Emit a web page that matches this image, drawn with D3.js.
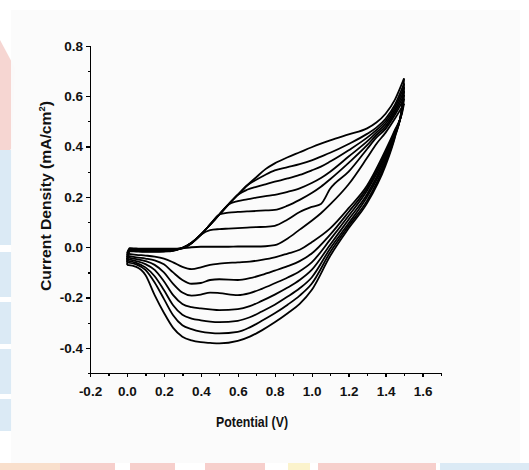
<!DOCTYPE html>
<html>
<head>
<meta charset="utf-8">
<script src="https://cdn.jsdelivr.net/npm/d3@7"></script>
<style>
  body { margin: 0; background: #fff; }
  svg { display: block; }
  .axis path, .axis line { stroke: #000; stroke-width: 1.3px; shape-rendering: crispEdges; }
  .axis text { font-family: "Liberation Sans", Arial, sans-serif; font-weight: bold; font-size: 13.5px; fill: #111; }
  .title { font-family: "Liberation Sans", Arial, sans-serif; font-weight: bold; fill: #111; }
  .cv { fill: none; stroke: #000; stroke-width: 1.8px; stroke-linejoin: round; }
</style>
</head>
<body>
<svg width="529" height="470"></svg>
<script>
// potentials (V) for the anodic (forward) and cathodic (reverse) sweeps
var fwdV = [0, 0.015, 0.05, 0.1, 0.15, 0.2, 0.25, 0.3, 0.35, 0.4, 0.45, 0.5, 0.55, 0.6, 0.65, 0.7, 0.75, 0.8, 0.87, 0.935, 1.0, 1.05, 1.1, 1.2, 1.3, 1.35, 1.4, 1.45, 1.5];
var revV = [1.5, 1.49, 1.45, 1.4, 1.3, 1.2, 1.1, 1.0, 0.935, 0.87, 0.8, 0.73, 0.665, 0.6, 0.5, 0.45, 0.4, 0.35, 0.3, 0.25, 0.2, 0.15, 0.1, 0.05, 0];

// current density (mA/cm2), cycles 1..7
var fwd1 = [-0.025, -0.004, -0.005, -0.006, -0.006, -0.006, -0.006, -0.004, 0.0, 0.002, 0.002, 0.002, 0.002, 0.003, 0.003, 0.003, 0.004, 0.008, 0.035, 0.07, 0.105, 0.135, 0.17, 0.25, 0.355, 0.41, 0.455, 0.51, 0.57];
var fwd2 = [-0.033, -0.006, -0.007, -0.008, -0.008, -0.008, -0.008, -0.004, 0.016, 0.05, 0.068, 0.072, 0.074, 0.076, 0.078, 0.08, 0.081, 0.085, 0.11, 0.14, 0.16, 0.172, 0.232, 0.3, 0.39, 0.435, 0.47, 0.525, 0.59];
var fwd3 = [-0.04, -0.008, -0.009, -0.01, -0.01, -0.01, -0.01, -0.004, 0.017, 0.05, 0.09, 0.13, 0.137, 0.14, 0.142, 0.144, 0.146, 0.148, 0.165, 0.188, 0.215, 0.24, 0.27, 0.335, 0.405, 0.445, 0.48, 0.535, 0.605];
var fwd4 = [-0.047, -0.01, -0.011, -0.012, -0.012, -0.012, -0.011, -0.003, 0.017, 0.05, 0.09, 0.13, 0.17, 0.183, 0.19, 0.197, 0.203, 0.208, 0.22, 0.234, 0.255, 0.275, 0.3, 0.36, 0.42, 0.455, 0.49, 0.545, 0.62];
var fwd5 = [-0.053, -0.012, -0.013, -0.014, -0.014, -0.014, -0.012, -0.003, 0.018, 0.05, 0.09, 0.13, 0.17, 0.208, 0.228, 0.24, 0.25, 0.26, 0.273, 0.287, 0.305, 0.32, 0.34, 0.385, 0.435, 0.465, 0.5, 0.555, 0.635];
var fwd6 = [-0.06, -0.014, -0.015, -0.016, -0.016, -0.016, -0.013, -0.002, 0.018, 0.05, 0.09, 0.13, 0.17, 0.208, 0.245, 0.268, 0.288, 0.305, 0.318, 0.33, 0.345, 0.36, 0.375, 0.41, 0.45, 0.475, 0.51, 0.565, 0.65];
var fwd7 = [-0.07, -0.016, -0.017, -0.018, -0.018, -0.017, -0.014, -0.002, 0.018, 0.05, 0.09, 0.13, 0.17, 0.208, 0.245, 0.278, 0.31, 0.333, 0.357, 0.377, 0.397, 0.411, 0.424, 0.448, 0.472, 0.495, 0.53, 0.585, 0.67];

var rev1 = [0.57, 0.535, 0.465, 0.385, 0.245, 0.155, 0.075, 0.02, -0.01, -0.025, -0.04, -0.05, -0.057, -0.06, -0.065, -0.07, -0.08, -0.087, -0.078, -0.06, -0.045, -0.037, -0.033, -0.03, -0.025];
var rev2 = [0.59, 0.54, 0.46, 0.375, 0.235, 0.14, 0.05, -0.025, -0.055, -0.075, -0.093, -0.11, -0.123, -0.13, -0.127, -0.13, -0.142, -0.145, -0.13, -0.1, -0.068, -0.052, -0.045, -0.04, -0.033];
var rev3 = [0.605, 0.545, 0.455, 0.365, 0.225, 0.125, 0.03, -0.06, -0.095, -0.12, -0.143, -0.165, -0.182, -0.19, -0.182, -0.18, -0.188, -0.192, -0.18, -0.145, -0.1, -0.07, -0.055, -0.047, -0.04];
var rev4 = [0.62, 0.55, 0.45, 0.355, 0.21, 0.11, 0.01, -0.09, -0.13, -0.16, -0.188, -0.213, -0.234, -0.246, -0.25, -0.247, -0.243, -0.238, -0.225, -0.19, -0.135, -0.09, -0.067, -0.055, -0.047];
var rev5 = [0.635, 0.555, 0.445, 0.345, 0.2, 0.095, -0.005, -0.12, -0.163, -0.196, -0.228, -0.255, -0.278, -0.292, -0.297, -0.295, -0.29, -0.283, -0.268, -0.23, -0.17, -0.115, -0.08, -0.062, -0.053];
var rev6 = [0.65, 0.56, 0.44, 0.335, 0.185, 0.085, -0.02, -0.145, -0.192, -0.228, -0.262, -0.292, -0.318, -0.336, -0.342, -0.34, -0.335, -0.325, -0.31, -0.27, -0.205, -0.14, -0.09, -0.068, -0.06];
var rev7 = [0.67, 0.565, 0.435, 0.325, 0.175, 0.075, -0.035, -0.17, -0.225, -0.262, -0.298, -0.33, -0.355, -0.372, -0.382, -0.38, -0.377, -0.37, -0.355, -0.32, -0.26, -0.19, -0.11, -0.078, -0.07];

var forwardScans = [fwd1, fwd2, fwd3, fwd4, fwd5, fwd6, fwd7];
var reverseScans = [rev1, rev2, rev3, rev4, rev5, rev6, rev7];

var xMajor = [-0.2, 0.0, 0.2, 0.4, 0.6, 0.8, 1.0, 1.2, 1.4, 1.6];
var xMinor = [-0.1, 0.1, 0.3, 0.5, 0.7, 0.9, 1.1, 1.3, 1.5, 1.7];
var yMajor = [-0.4, -0.2, 0.0, 0.2, 0.4, 0.6, 0.8];
var yMinor = [-0.5, -0.3, -0.1, 0.1, 0.3, 0.5, 0.7];

var svg = d3.select("svg"),
    margin = {top: 45.7, left: 90},
    width = 351,
    height = 327.5;

// faint watermark behind the figure
var bg = svg.append("g").attr("opacity", 0.8);
bg.append("polygon").attr("points", "0,40 15,68 12,148 0,160").attr("fill", "#f5cdc8");
[[150, 95], [252, 45], [302, 42], [349, 45], [399, 32]].forEach(function(b) {
  bg.append("rect").attr("x", 0).attr("y", b[0]).attr("width", 12).attr("height", b[1]).attr("fill", "#d3e5f3");
});
[[0, 60, "#f8d8c0"], [60, 55, "#f6c4c0"], [130, 45, "#f6c4c0"], [205, 60, "#f6c4c0"], [288, 22, "#fbf1c0"], [318, 118, "#f6c4c0"], [440, 89, "#d3e5f3"]].forEach(function(b) {
  bg.append("rect").attr("x", b[0]).attr("y", 463).attr("width", b[1]).attr("height", 7).attr("fill", b[2]);
});
svg.append("rect").attr("x", 11).attr("y", 10).attr("width", 509).attr("height", 453)
  .attr("fill", "#fbfbfb").attr("opacity", 0.94);

var x = d3.scaleLinear().domain([-0.2, 1.7]).range([0, width]),
    y = d3.scaleLinear().domain([-0.5, 0.8]).range([height, 0]);

var g = svg.append("g").attr("transform", "translate(" + margin.left + "," + margin.top + ")");

var fmt = function(d) { return d.toFixed(1); };

g.append("g")
    .attr("class", "axis")
    .attr("transform", "translate(0," + height + ")")
    .call(d3.axisBottom(x).tickValues(xMajor).tickFormat(fmt).tickSize(4).tickSizeOuter(0).tickPadding(9));
g.append("g")
    .attr("class", "axis")
    .attr("transform", "translate(0," + height + ")")
    .call(d3.axisBottom(x).tickValues(xMinor).tickFormat("").tickSize(2.5).tickSizeOuter(0));

g.append("g")
    .attr("class", "axis")
    .call(d3.axisLeft(y).tickValues(yMajor).tickFormat(fmt).tickSize(4).tickSizeOuter(0).tickPadding(3));
g.append("g")
    .attr("class", "axis")
    .call(d3.axisLeft(y).tickValues(yMinor).tickFormat("").tickSize(2.5).tickSizeOuter(0));

var line = d3.line()
    .x(function(d) { return x(d[0]); })
    .y(function(d) { return y(d[1]); })
    .curve(d3.curveMonotoneX);

forwardScans.forEach(function(scan) {
  g.append("path").attr("class", "cv")
    .attr("d", line(fwdV.map(function(v, i) { return [v, scan[i]]; })));
});
reverseScans.forEach(function(scan) {
  var pts = revV.map(function(v, i) { return [v, scan[i]]; }).reverse();
  g.append("path").attr("class", "cv").attr("d", line(pts));
});

svg.append("text")
    .attr("class", "title")
    .attr("x", 252).attr("y", 427)
    .attr("text-anchor", "middle")
    .style("font-size", "14.5px")
    .attr("textLength", 72).attr("lengthAdjust", "spacingAndGlyphs")
    .text("Potential (V)");

var yt = svg.append("text")
    .attr("class", "title")
    .attr("transform", "translate(51,196) rotate(-90)")
    .attr("text-anchor", "middle")
    .attr("textLength", 190).attr("lengthAdjust", "spacingAndGlyphs")
    .style("font-size", "15px");
yt.append("tspan").text("Current Density (mA/cm");
yt.append("tspan").attr("dy", "-6").style("font-size", "9px").text("2");
yt.append("tspan").attr("dy", "6").text(")");
</script>
</body>
</html>
